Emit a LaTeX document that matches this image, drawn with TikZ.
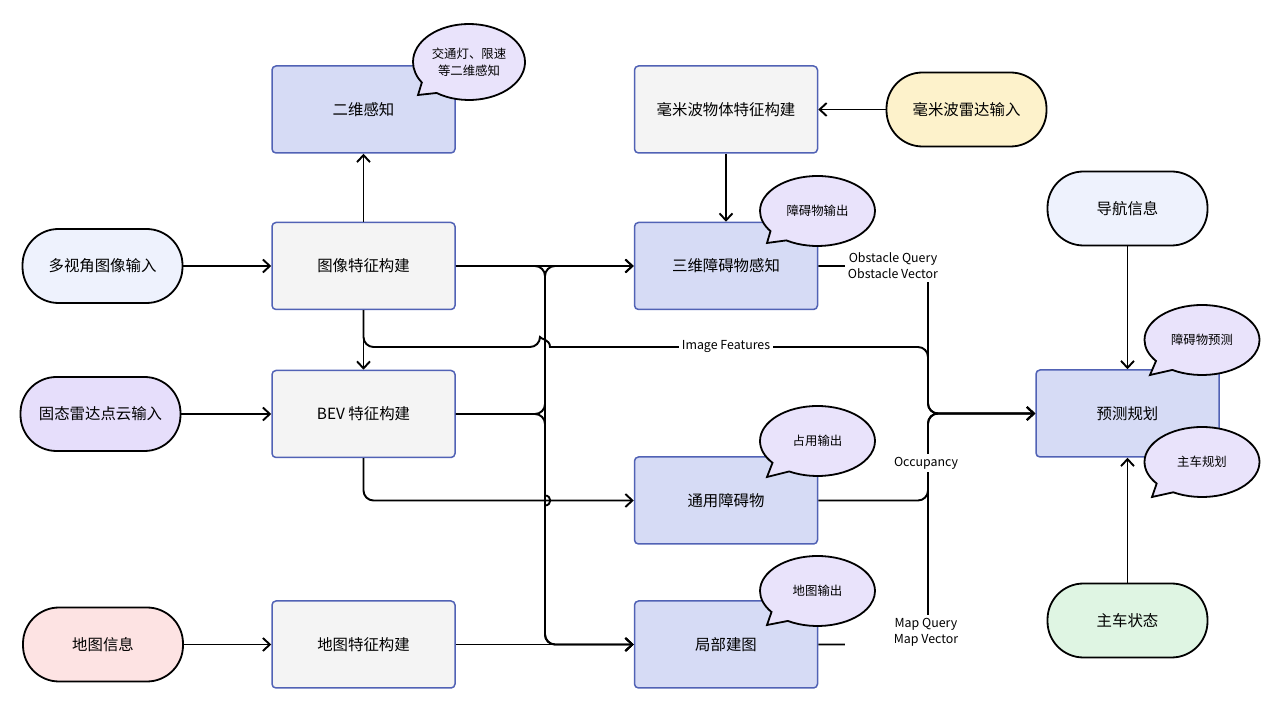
\documentclass[tikz,border=0pt]{standalone}
\usepackage{fontspec}
\setmainfont{Noto Sans CJK SC}
\usetikzlibrary{arrows.meta}
\usetikzlibrary{shapes}
\usetikzlibrary{positioning}

\definecolor{boxblue}{HTML}{D6DBF5}
\definecolor{boxgrey}{HTML}{F4F4F4}
\definecolor{edgeblue}{HTML}{5162B5}
\definecolor{bubble}{HTML}{E9E3FB}
\definecolor{inblue}{HTML}{EEF2FD}
\definecolor{inpurple}{HTML}{E6DEFB}
\definecolor{inpink}{HTML}{FDE3E3}
\definecolor{ingreen}{HTML}{DFF5E3}
\definecolor{inyellow}{HTML}{FDF2CB}

\begin{document}
\begin{tikzpicture}
      [x=0.5pt,y=-0.5pt,
       stage/.style={rectangle,draw=edgeblue,line width=0.75pt,rounded corners=2pt,minimum width=91.5pt,minimum height=43.5pt,font=\fontsize{7.7}{9}\selectfont},
       task/.style={stage,fill=boxblue},
       feat/.style={stage,fill=boxgrey},
       source/.style={rectangle,draw=black,line width=0.9pt,rounded corners=18pt,minimum width=80pt,minimum height=37pt,font=\fontsize{7.7}{9}\selectfont},
       note/.style={ellipse callout,draw=black,fill=bubble,line width=0.9pt,minimum width=57.5pt,minimum height=35pt,inner sep=0pt,callout pointer arc=22,font=\fontsize{6.2}{8.5}\selectfont,align=center},
       lbl/.style={fill=white,inner sep=1.5pt,font=\fontsize{6.2}{8}\selectfont,align=center},
       flow/.style={-{Straight Barb[length=3.5pt,width=6.5pt]},line width=0.95pt,rounded corners=5pt},
       wire/.style={line width=0.95pt}]
      \useasboundingbox (0,0) rectangle (1280,710);
      % place nodes
      \node[task] (twod) at (363.5,109.5) {二维感知};
      \node[feat] (radarfeat) at (726,109.5) {毫米波物体特征构建};
      \node[source,fill=inyellow] (radar) at (966.5,109.5) {毫米波雷达输入};
      \node[source,fill=inblue] (multicam) at (102.5,266) {多视角图像输入};
      \node[feat] (img) at (363.5,266) {图像特征构建};
      \node[task] (obst3d) at (726,266) {三维障碍物感知};
      \node[source,fill=inblue] (nav) at (1127.5,208.5) {导航信息};
      \node[source,fill=inpurple] (lidar) at (100.5,414) {固态雷达点云输入};
      \node[feat] (bev) at (363.5,414) {BEV 特征构建};
      \node[task] (plan) at (1127.5,413.5) {预测规划};
      \node[task] (general) at (726,500.5) {通用障碍物};
      \node[source,fill=inpink] (mapin) at (103,644.5) {地图信息};
      \node[feat] (mapfeat) at (363.5,644.5) {地图特征构建};
      \node[task] (localmap) at (726,644.5) {局部建图};
      \node[source,fill=ingreen] (ego) at (1127.5,620.5) {主车状态};
      \coordinate (bus) at (545,644.5);
      \coordinate (imgsplit) at (363.5,347);
      \coordinate (merge) at (928,413.5);
      % add edges
      \draw[flow] (img) -- (twod);
      \draw[flow] (radar) -- (radarfeat);
      \draw[flow] (radarfeat) -- (obst3d);
      \draw[flow] (multicam) -- (img);
      \draw[flow] (lidar) -- (bev);
      \draw[flow] (mapin) -- (mapfeat);
      \draw[flow] (img) -- (bev);
      \draw[flow] (img) -- (obst3d);
      \draw[flow] (mapfeat) -- (localmap);
      \draw[flow] (img.east) -| (bus) -- (localmap.west);
      \draw[flow] (bev.east) -| (bus) -- (localmap.west);
      \draw[flow] (bev.east) -| (bus |- obst3d.west) -- (obst3d.west);
      \draw[flow] (bev.south) |- (general.west);
      \draw[wire] (545,495.5) .. controls (552,495.5) and (552,505.5) .. (545,505.5);
      \draw[flow] (img.south) -- (imgsplit) -- (540,347) [sharp corners] .. controls (540,339) and (550,339) .. (550,347) [rounded corners=5pt] -- (merge |- imgsplit) -- (merge) -- (plan.west);
      \draw[flow] (obst3d.east) -| (merge) -- (plan.west);
      \draw[flow] (general.east) -| (merge) -- (plan.west);
      \draw[flow] (localmap.east) -| (merge) -- (plan.west);
      \draw[flow] (nav) -- (plan);
      \draw[flow] (ego) -- (plan);
      % labels
      \node[lbl] (imgfeat) at (726,347) {Image Features};
      \node[lbl] (obstq) at (893,266) {Obstacle Query\\Obstacle Vector};
      \node[lbl] (occ) at (926,463) {Occupancy};
      \node[lbl,minimum width=81pt] (mapq) at (926,632) {Map Query\\Map Vector};
      % bubbles
      \node[note,minimum width=56pt,minimum height=38pt,callout absolute pointer={(418,95)}] (lightnote) at (469,62) {交通灯、限速\\等二维感知};
      \node[note,callout absolute pointer={(767,243)}] (obstnote) at (817.5,211) {障碍物输出};
      \node[note,callout absolute pointer={(767,477)}] (occnote) at (817.5,441) {占用输出};
      \node[note,callout absolute pointer={(767,625)}] (mapnote) at (817.5,591) {地图输出};
      \node[note,callout absolute pointer={(1150,375)}] (prednote) at (1202,340) {障碍物预测};
      \node[note,callout absolute pointer={(1152,497)}] (egonote) at (1202,462) {主车规划};
    \end{tikzpicture}
\end{document}
